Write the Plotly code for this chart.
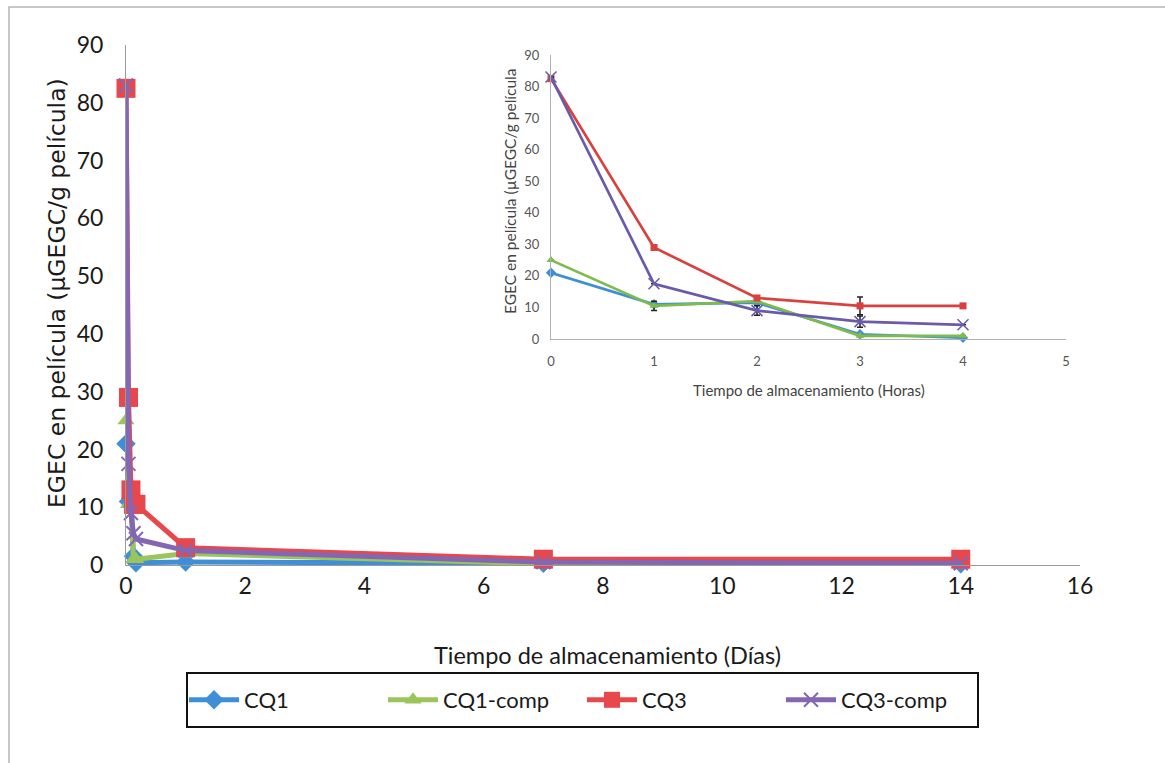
import plotly.graph_objects as go

# ---------------- data ----------------
hours = [0, 1, 2, 3, 4]
days = [0, 0.042, 0.083, 0.125, 0.167, 1, 7, 14]

cq1_h = [21, 11, 11.5, 1.5, 0.4]
cq1comp_h = [25, 10.5, 12, 1, 1]
cq3_h = [82.5, 29, 13, 10.5, 10.5]
cq3comp_h = [83, 17.5, 9, 5.5, 4.5]

cq1_d = [0.5, 0.3, 0.2]
cq1comp_d = [2, 0.2, 0.1]
cq3_d = [3, 1, 1]
cq3comp_d = [2.5, 0.5, 0.3]

cq1comp_err = [0, 1.5, 0, 0, 0]
cq3_err = [0, 0, 0, 2.8, 0]
cq3comp_err = [0, 0, 1.5, 1.8, 0]

names = ["CQ1", "CQ1-comp", "CQ3", "CQ3-comp"]
x_ticks_main = [0, 2, 4, 6, 8, 10, 12, 14, 16]
y_ticks = [0, 10, 20, 30, 40, 50, 60, 70, 80, 90]
x_ticks_inset = [0, 1, 2, 3, 4, 5]

# ---------------- style ----------------
W, H = 1165, 763
main_colors = ["#3E8FD8", "#9BC45A", "#E8474B", "#8467B3"]
inset_colors = ["#3E8FD8", "#7DBB4A", "#D9413E", "#6A5AAA"]
symbols = ["diamond", "triangle-up", "square", "x-thin"]
main_sizes = [15, 15, 19, 14]
inset_sizes = [8, 8, 7, 11]
NARROW = "Liberation Sans Narrow, Lato, sans-serif"

series_h = [cq1_h, cq1comp_h, cq3_h, cq3comp_h]
series_d = [cq1_d, cq1comp_d, cq3_d, cq3comp_d]
errs = [None, cq1comp_err, cq3_err, cq3comp_err]

fig = go.Figure()

for i, nm in enumerate(names):
    yv = series_h[i] + series_d[i]
    mk = dict(symbol=symbols[i], size=main_sizes[i], color=main_colors[i])
    if symbols[i] == "x-thin":
        mk["line"] = dict(color=main_colors[i], width=2)
    fig.add_trace(go.Scatter(
        x=days, y=yv, name=nm, mode="lines+markers",
        line=dict(color=main_colors[i], width=5),
        marker=mk, xaxis="x", yaxis="y", showlegend=True, cliponaxis=False,
    ))

for i, nm in enumerate(names):
    mk = dict(symbol=symbols[i], size=inset_sizes[i], color=inset_colors[i])
    if symbols[i] == "x-thin":
        mk["line"] = dict(color=inset_colors[i], width=1.5)
    ey = None
    if errs[i] is not None:
        ey = dict(type="data", array=errs[i], visible=True,
                  color="#222", thickness=1.5, width=3)
    fig.add_trace(go.Scatter(
        x=hours, y=series_h[i], name=nm, mode="lines+markers",
        line=dict(color=inset_colors[i], width=2.7),
        marker=mk, error_y=ey, xaxis="x2", yaxis="y2", showlegend=False,
        cliponaxis=False,
    ))

def px_x(p):
    return p / W

def px_y(p):
    return 1 - p / H

fig.update_layout(
    width=W, height=H, autosize=False,
    margin=dict(l=0, r=0, t=0, b=0, autoexpand=False),
    paper_bgcolor="white", plot_bgcolor="rgba(0,0,0,0)",
    font=dict(family=NARROW, color="#1a1a1a"),
    xaxis=dict(domain=[px_x(126), px_x(1080)], range=[0, 16],
               tickvals=x_ticks_main, showgrid=False, zeroline=False,
               showline=True, linecolor="#9a9a9a", linewidth=1,
               ticks="", tickfont=dict(size=23, family=NARROW, color="#1a1a1a"),
               ticklabelstandoff=0, anchor="y"),
    yaxis=dict(domain=[px_y(565), px_y(45)], range=[0, 90],
               tickvals=y_ticks, showgrid=False, zeroline=False,
               showline=True, linecolor="#9a9a9a", linewidth=1,
               ticks="", tickfont=dict(size=23, family=NARROW, color="#1a1a1a"),
               ticklabelstandoff=17, anchor="x"),
    xaxis2=dict(domain=[px_x(551), px_x(1066)], range=[0, 5],
                tickvals=x_ticks_inset, showgrid=False, zeroline=False,
                showline=True, linecolor="#b0b0b0", linewidth=1,
                ticks="", tickfont=dict(size=13, family=NARROW, color="#555"),
                ticklabelstandoff=10, anchor="y2"),
    yaxis2=dict(domain=[px_y(339), px_y(55)], range=[0, 90],
                tickvals=y_ticks, showgrid=False, zeroline=False,
                showline=True, linecolor="#b0b0b0", linewidth=1,
                ticks="", tickfont=dict(size=13, family=NARROW, color="#555"),
                ticklabelstandoff=8, anchor="x2"),
    legend=dict(orientation="h", x=px_x(184), y=px_y(700),
                xanchor="left", yanchor="middle",
                borderwidth=0, bgcolor="rgba(0,0,0,0)",
                font=dict(size=22, family=NARROW, color="#1a1a1a"),
                entrywidth=134, entrywidthmode="pixels", itemwidth=50,
                tracegroupgap=0),
    annotations=[
        dict(text="Tiempo de almacenamiento (Días)", x=px_x(607), y=px_y(655),
             xref="paper", yref="paper", showarrow=False,
             xanchor="center", yanchor="middle",
             font=dict(size=23.5, family=NARROW, color="#1a1a1a")),
        dict(text="EGEC en película (µGEGC/g película)", x=px_x(57), y=px_y(293),
             xref="paper", yref="paper", showarrow=False, textangle=-90,
             xanchor="center", yanchor="middle",
             font=dict(size=23.5, family="DejaVu Sans", color="#1a1a1a")),
        dict(text="Tiempo de almacenamiento (Horas)", x=px_x(809), y=px_y(390),
             xref="paper", yref="paper", showarrow=False,
             xanchor="center", yanchor="middle",
             font=dict(size=15, family=NARROW, color="#444")),
        dict(text="EGEC en película (µGEGC/g película", x=px_x(510), y=px_y(192),
             xref="paper", yref="paper", showarrow=False, textangle=-90,
             xanchor="center", yanchor="middle",
             font=dict(size=15.5, family=NARROW, color="#444")),
    ],
    shapes=[
        dict(type="rect", xref="paper", yref="paper",
             x0=px_x(9), x1=px_x(1175), y0=px_y(7), y1=px_y(775),
             line=dict(color="#b5b5b5", width=1.5), fillcolor="rgba(0,0,0,0)"),
        dict(type="rect", xref="paper", yref="paper",
             x0=px_x(187), x1=px_x(978), y0=px_y(673), y1=px_y(727),
             line=dict(color="#111", width=2), fillcolor="rgba(0,0,0,0)",
             layer="below"),
    ],
)

fig.write_html("out.html")
